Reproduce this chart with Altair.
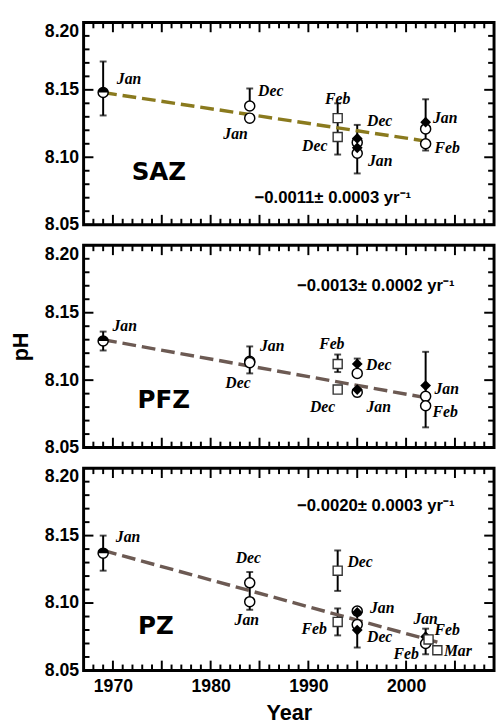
import altair as alt
import pandas as pd

# ---------------- data ----------------
zones = ["SAZ", "PFZ", "PZ"]

# points: zone, year, pH, symbol
pt_zone = ["SAZ"] * 12 + ["PFZ"] * 12 + ["PZ"] * 13
pt_year = [1969, 1984, 1984, 1993, 1993, 1995, 1995, 1995, 1995, 2002, 2002, 2002,
           1969, 1984, 1984, 1993, 1993, 1995, 1995, 1995, 1995, 2002, 2002, 2002,
           1969, 1984, 1984, 1993, 1993, 1995, 1995, 1995, 1995, 2002, 2002.3, 2002, 2003.2]
pt_ph = [8.148, 8.138, 8.129, 8.129, 8.115, 8.114, 8.111, 8.107, 8.103, 8.126, 8.121, 8.110,
         8.129, 8.114, 8.113, 8.112, 8.093, 8.112, 8.105, 8.093, 8.091, 8.096, 8.088, 8.081,
         8.137, 8.115, 8.101, 8.124, 8.086, 8.094, 8.093, 8.084, 8.080, 8.075, 8.073, 8.070, 8.065]
pt_shape = ["half", "circle", "circle", "square", "square", "diamond", "circle", "diamond", "circle", "diamond", "circle", "circle",
            "half", "circle", "circle", "square", "square", "diamond", "circle", "diamond", "circle", "diamond", "circle", "circle",
            "half", "circle", "circle", "square", "square", "circle", "diamond", "circle", "diamond", "diamond", "square", "circle", "square"]

# error bars: zone, year, low, high
err_zone = ["SAZ"] * 6 + ["PFZ"] * 6 + ["PZ"] * 6
err_year = [1969, 1984, 1993, 1993, 1995, 2002,
            1969, 1984, 1993, 1995, 1995, 2002,
            1969, 1984, 1993, 1993, 1995, 2002]
err_lo = [8.131, 8.138, 8.129, 8.102, 8.088, 8.105,
          8.122, 8.105, 8.106, 8.105, 8.088, 8.065,
          8.124, 8.095, 8.109, 8.076, 8.067, 8.062]
err_hi = [8.171, 8.151, 8.140, 8.129, 8.124, 8.143,
          8.136, 8.125, 8.119, 8.116, 8.093, 8.121,
          8.150, 8.123, 8.139, 8.096, 8.096, 8.081]

# trend lines
tr_zone = ["SAZ", "SAZ", "PFZ", "PFZ", "PZ", "PZ"]
tr_year = [1969, 2002, 1969, 2002, 1969, 2003.2]
tr_ph = [8.148, 8.112, 8.130, 8.087, 8.139, 8.071]
trend_colors = {"SAZ": "#8a7a1e", "PFZ": "#6c5a53", "PZ": "#6c5a53"}

# month labels
lb_zone = ["SAZ"] * 9 + ["PFZ"] * 9 + ["PZ"] * 11
lb_text = ["Jan", "Dec", "Jan", "Feb", "Dec", "Dec", "Jan", "Jan", "Feb",
           "Jan", "Jan", "Dec", "Feb", "Dec", "Dec", "Jan", "Jan", "Feb",
           "Jan", "Dec", "Jan", "Dec", "Feb", "Jan", "Dec", "Jan", "Feb", "Feb", "Mar"]
lb_year = [1971.65, 1986.15, 1982.55, 1993.0, 1990.65, 1997.3, 1997.35, 2004.0, 2004.2,
           1971.2, 1986.3, 1982.8, 1992.4, 1991.45, 1997.2, 1997.2, 2004.15, 2004.0,
           1971.55, 1983.85, 1983.7, 1995.3, 1990.6, 1997.55, 1997.3, 2002.0, 2004.2, 2000.0, 2005.3]
lb_ph = [8.158, 8.149, 8.117, 8.143, 8.108, 8.127, 8.097, 8.129, 8.107,
         8.140, 8.125, 8.098, 8.127, 8.080, 8.111, 8.080, 8.093, 8.076,
         8.149, 8.133, 8.087, 8.130, 8.081, 8.096, 8.075, 8.088, 8.080, 8.062, 8.064]

# zone names and trend annotations
zn_year = [1974.7, 1975.2, 1974.4]
zn_ph = [8.089, 8.085, 8.083]
an_text = ["\u22120.0011\u00b1 0.0003 yr\u207b\u00b9",
           "\u22120.0013\u00b1 0.0002 yr\u207b\u00b9",
           "\u22120.0020\u00b1 0.0003 yr\u207b\u00b9"]
an_year = [1992.5, 1996.9, 1996.9]
an_ph = [8.070, 8.170, 8.172]

# axis tick values
x_domain = [1967, 2009]
y_domain = [8.05, 8.20]
x_major = [1970, 1975, 1980, 1985, 1990, 1995, 2000, 2005]
x_minor = [1968, 1969, 1971, 1972, 1973, 1974, 1976, 1977, 1978, 1979,
           1981, 1982, 1983, 1984, 1986, 1987, 1988, 1989, 1991, 1992, 1993, 1994,
           1996, 1997, 1998, 1999, 2001, 2002, 2003, 2004, 2006, 2007, 2008]
y_major = [8.05, 8.10, 8.15, 8.20]
y_minor = [8.06, 8.07, 8.08, 8.09, 8.11, 8.12, 8.13, 8.14, 8.16, 8.17, 8.18, 8.19]

# ---------------- tables ----------------
pts = pd.DataFrame({"zone": pt_zone, "year": pt_year, "ph": pt_ph, "shape": pt_shape})
errs = pd.DataFrame({"zone": err_zone, "year": err_year, "lo": err_lo, "hi": err_hi})
caps = pd.concat([errs[["zone", "year"]].assign(v=errs["lo"]),
                  errs[["zone", "year"]].assign(v=errs["hi"])], ignore_index=True)
trend = pd.DataFrame({"zone": tr_zone, "year": tr_year, "ph": tr_ph})
labels = pd.DataFrame({"zone": lb_zone, "text": lb_text, "year": lb_year, "ph": lb_ph})
names = pd.DataFrame({"zone": zones, "year": zn_year, "ph": zn_ph})
annot = pd.DataFrame({"zone": zones, "text": an_text, "year": an_year, "ph": an_ph})
xt_major = pd.DataFrame({"tv": x_major})
xt_minor = pd.DataFrame({"tv": x_minor})
yt_major = pd.DataFrame({"tv": y_major})
yt_minor = pd.DataFrame({"tv": y_minor})

LABEL_FONT = "Liberation Sans"
W, H = 418, 206
MAJ, MIN = 10, 6


def panel(z, bottom, middle):
    xs = alt.Scale(domain=x_domain, nice=False, zero=False)
    ys = alt.Scale(domain=y_domain, nice=False, zero=False)
    pz = pts[pts.zone == z]

    xkw = dict(orient="bottom", values=x_major, ticks=False, domain=False, grid=False,
               labels=bottom, labelFont=LABEL_FONT, labelFontWeight="bold",
               labelFontSize=18, labelColor="black", labelFlush=False, labelPadding=7,
               format="d", labelExpr="datum.value % 10 == 0 ? datum.label : ''")
    if bottom:
        xkw.update(title="Year", titleFont=LABEL_FONT, titleFontWeight="bold",
                   titleFontSize=22, titleColor="black", titlePadding=8)
    else:
        xkw.update(title=None)
    ykw = dict(orient="left", values=y_major, ticks=False, domain=False, grid=False,
               labelFont=LABEL_FONT, labelFontWeight="bold", labelFontSize=18,
               labelColor="black", labelFlush=False, labelPadding=5, format=".2f",
               labelBaseline={"expr": "datum.value > 8.19 ? 'top' : 'middle'"})
    if middle:
        ykw.update(title="pH", titleFont=LABEL_FONT, titleFontWeight="bold",
                   titleFontSize=22, titleColor="black", titlePadding=12)
    else:
        ykw.update(title=None)

    X = lambda f: alt.X(f, scale=xs, axis=None)
    Y = lambda f: alt.Y(f, scale=ys, axis=None)

    # the only layer that carries the axis labels
    err = alt.Chart(errs[errs.zone == z]).mark_rule(color="black", strokeWidth=2).encode(
        x=alt.X("year:Q", scale=xs, axis=alt.Axis(**xkw)),
        y=alt.Y("lo:Q", scale=ys, axis=alt.Axis(**ykw)),
        y2="hi:Q")
    cap = alt.Chart(caps[caps.zone == z]).mark_tick(
        orient="horizontal", size=7, thickness=2, color="black").encode(
        x=X("year:Q"), y=Y("v:Q"))

    # inward frame ticks, drawn as tick marks placed along the axes by the scales
    tk = []
    for df, ln in ((yt_major, MAJ), (yt_minor, MIN)):
        tk.append(alt.Chart(df).mark_tick(orient="horizontal", size=ln, thickness=2,
                                          color="black", opacity=1).encode(
            y=Y("tv:Q"), x=alt.value(ln / 2)))
        tk.append(alt.Chart(df).mark_tick(orient="horizontal", size=ln, thickness=2,
                                          color="black", opacity=1).encode(
            y=Y("tv:Q"), x=alt.value(W - ln / 2)))
    for df, ln in ((xt_major, MAJ), (xt_minor, MIN)):
        tk.append(alt.Chart(df).mark_tick(orient="vertical", size=ln, thickness=2,
                                          color="black", opacity=1).encode(
            x=X("tv:Q"), y=alt.value(ln / 2)))
        tk.append(alt.Chart(df).mark_tick(orient="vertical", size=ln, thickness=2,
                                          color="black", opacity=1).encode(
            x=X("tv:Q"), y=alt.value(H - ln / 2)))

    line = alt.Chart(trend[trend.zone == z]).mark_line(
        color=trend_colors[z], strokeWidth=3.5, strokeDash=[14, 6]).encode(
        x=X("year:Q"), y=Y("ph:Q"))
    circ = alt.Chart(pz[pz["shape"].isin(["circle", "half"])]).mark_point(
        shape="circle", filled=True, fill="white", stroke="black", strokeWidth=1.5,
        size=105, opacity=1).encode(x=X("year:Q"), y=Y("ph:Q"))
    half = alt.Chart(pz[pz["shape"] == "half"]).mark_point(
        shape="M-1,0A1,1,0,0,1,1,0Z", filled=True, color="black", size=105,
        opacity=1).encode(x=X("year:Q"), y=Y("ph:Q"))
    dia = alt.Chart(pz[pz["shape"] == "diamond"]).mark_point(
        shape="diamond", filled=True, color="black", size=120, opacity=1).encode(
        x=X("year:Q"), y=Y("ph:Q"))
    sq = alt.Chart(pz[pz["shape"] == "square"]).mark_point(
        shape="square", filled=True, fill="white", stroke="#333333", strokeWidth=1.4,
        size=85, opacity=1).encode(x=X("year:Q"), y=Y("ph:Q"))
    txt = alt.Chart(labels[labels.zone == z]).mark_text(
        font="Liberation Serif", fontStyle="italic", fontWeight="bold", fontSize=16,
        color="black", align="center", baseline="middle").encode(
        x=X("year:Q"), y=Y("ph:Q"), text="text:N")
    nm = alt.Chart(names[names.zone == z]).mark_text(
        font="DejaVu Sans", fontWeight="bold", fontSize=25, color="black",
        align="center", baseline="middle").encode(
        x=X("year:Q"), y=Y("ph:Q"), text="zone:N")
    an = alt.Chart(annot[annot.zone == z]).mark_text(
        font=LABEL_FONT, fontWeight="bold", fontSize=17, color="black",
        align="center", baseline="middle").encode(
        x=X("year:Q"), y=Y("ph:Q"), text="text:N")

    return alt.layer(err, cap, *tk, line, circ, half, dia, sq, txt, nm, an).resolve_axis(
        x="independent", y="independent").properties(width=W, height=H)


chart = alt.vconcat(
    panel("SAZ", False, False),
    panel("PFZ", False, True),
    panel("PZ", True, False),
    spacing=7,
).properties(
    padding={"left": 0, "top": 5, "right": 0, "bottom": 0},
    background="white",
).configure_view(stroke="black", strokeWidth=3)

chart.save("out.html", embed_options={"renderer": "svg", "actions": False})
